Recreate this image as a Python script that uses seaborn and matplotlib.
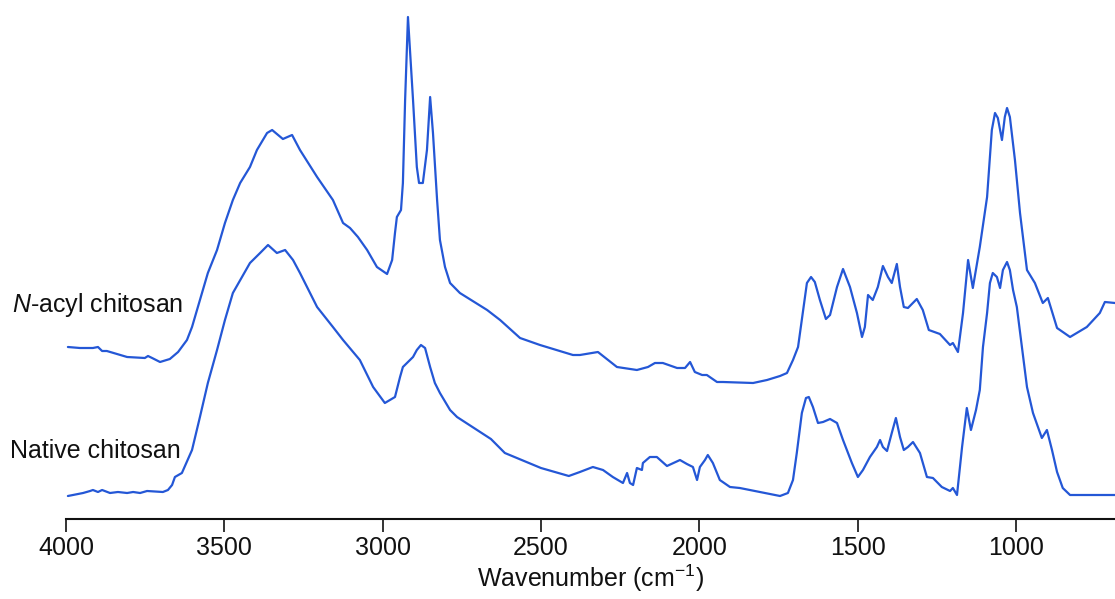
import pandas as pd
import matplotlib
matplotlib.use("Agg")
import matplotlib.pyplot as plt
import seaborn as sns

# FTIR spectra, absorbance in arbitrary units (offset traces)
acyl_wn = [3994, 3956, 3915, 3899, 3886, 3871, 3807, 3751, 3741, 3728, 3703, 3672, 3646, 3618,
           3602, 3577, 3552, 3523, 3498, 3473, 3450, 3419, 3397, 3365, 3349, 3315, 3286, 3261,
           3207, 3157, 3125, 3103, 3078, 3049, 3018, 2986, 2970, 2961, 2955, 2942, 2936, 2929,
           2920, 2904, 2892, 2885, 2873, 2860, 2850, 2841, 2828, 2819, 2803, 2787, 2756, 2670,
           2629, 2566, 2503, 2399, 2377, 2320, 2260, 2197, 2162, 2140, 2115, 2070, 2045, 2029,
           2014, 1991, 1976, 1944, 1925, 1830, 1786, 1745, 1723, 1704, 1688, 1673, 1660, 1647,
           1635, 1619, 1600, 1587, 1565, 1546, 1524, 1502, 1486, 1477, 1467, 1452, 1436, 1420,
           1404, 1392, 1376, 1366, 1354, 1341, 1313, 1294, 1275, 1240, 1208, 1199, 1183, 1167,
           1151, 1136, 1114, 1091, 1076, 1066, 1057, 1044, 1035, 1028, 1019, 1003, 987, 965,
           940, 915, 899, 870, 829, 776, 735, 719, 687]
acyl_abs = [1.72, 1.71, 1.71, 1.72, 1.68, 1.68, 1.62, 1.61, 1.63, 1.61, 1.57, 1.60, 1.67, 1.79,
            1.92, 2.19, 2.46, 2.69, 2.96, 3.19, 3.36, 3.52, 3.69, 3.86, 3.89, 3.80, 3.84, 3.69,
            3.42, 3.19, 2.96, 2.91, 2.82, 2.69, 2.52, 2.45, 2.59, 2.86, 3.02, 3.09, 3.36, 4.19,
            5.02, 4.19, 3.52, 3.36, 3.36, 3.69, 4.22, 3.86, 3.19, 2.79, 2.52, 2.36, 2.26, 2.09,
            1.99, 1.81, 1.74, 1.64, 1.64, 1.67, 1.52, 1.49, 1.52, 1.56, 1.56, 1.51, 1.51, 1.57,
            1.47, 1.44, 1.44, 1.37, 1.37, 1.36, 1.39, 1.43, 1.46, 1.59, 1.72, 2.06, 2.36, 2.42,
            2.37, 2.19, 2.00, 2.04, 2.32, 2.50, 2.32, 2.06, 1.82, 1.92, 2.24, 2.19, 2.32, 2.53,
            2.42, 2.36, 2.55, 2.32, 2.12, 2.11, 2.20, 2.09, 1.89, 1.85, 1.74, 1.76, 1.67, 2.06,
            2.59, 2.31, 2.72, 3.22, 3.89, 4.06, 4.01, 3.79, 4.02, 4.11, 4.02, 3.59, 3.06, 2.49,
            2.36, 2.16, 2.21, 1.91, 1.82, 1.92, 2.06, 2.17, 2.16]

native_wn = [3994, 3946, 3924, 3915, 3899, 3886, 3861, 3836, 3807, 3788, 3766, 3744, 3694, 3678,
             3665, 3656, 3634, 3602, 3577, 3552, 3523, 3498, 3473, 3444, 3419, 3387, 3362, 3334,
             3308, 3283, 3261, 3207, 3157, 3125, 3072, 3030, 2993, 2961, 2945, 2936, 2904, 2892,
             2879, 2866, 2850, 2835, 2819, 2787, 2765, 2658, 2614, 2500, 2412, 2377, 2336, 2304,
             2273, 2241, 2228, 2219, 2209, 2197, 2181, 2178, 2156, 2134, 2102, 2061, 2039, 2020,
             2007, 1998, 1982, 1973, 1957, 1935, 1903, 1872, 1808, 1745, 1720, 1704, 1692, 1676,
             1663, 1654, 1641, 1625, 1609, 1587, 1565, 1546, 1518, 1499, 1483, 1461, 1439, 1429,
             1420, 1407, 1392, 1379, 1366, 1354, 1341, 1325, 1303, 1281, 1262, 1234, 1208, 1199,
             1186, 1170, 1155, 1142, 1126, 1114, 1104, 1091, 1082, 1073, 1060, 1050, 1041, 1028,
             1019, 1009, 997, 981, 965, 946, 918, 902, 886, 870, 852, 829, 687]
native_abs = [0.23, 0.26, 0.28, 0.29, 0.27, 0.29, 0.26, 0.27, 0.26, 0.27, 0.26, 0.28, 0.27, 0.29,
              0.34, 0.42, 0.46, 0.69, 1.02, 1.36, 1.69, 1.99, 2.26, 2.42, 2.56, 2.66, 2.74, 2.66,
              2.69, 2.59, 2.46, 2.12, 1.92, 1.79, 1.59, 1.32, 1.16, 1.22, 1.42, 1.52, 1.62, 1.69,
              1.74, 1.71, 1.52, 1.36, 1.26, 1.09, 1.02, 0.80, 0.66, 0.51, 0.43, 0.47, 0.52, 0.49,
              0.42, 0.36, 0.46, 0.36, 0.34, 0.51, 0.49, 0.56, 0.62, 0.62, 0.53, 0.59, 0.55, 0.52,
              0.39, 0.52, 0.59, 0.64, 0.56, 0.39, 0.32, 0.31, 0.27, 0.23, 0.26, 0.39, 0.66, 1.06,
              1.21, 1.22, 1.12, 0.96, 0.97, 1.00, 0.96, 0.79, 0.56, 0.42, 0.49, 0.62, 0.72, 0.79,
              0.72, 0.68, 0.86, 1.01, 0.82, 0.69, 0.72, 0.77, 0.66, 0.42, 0.41, 0.32, 0.28, 0.31,
              0.24, 0.72, 1.11, 0.89, 1.09, 1.29, 1.72, 2.06, 2.36, 2.46, 2.42, 2.31, 2.49, 2.57,
              2.49, 2.29, 2.12, 1.72, 1.32, 1.06, 0.81, 0.89, 0.69, 0.47, 0.31, 0.24, 0.24]

labels = ["$\\it{N}$-acyl chitosan", "Native chitosan"]
ticks = [4000, 3500, 3000, 2500, 2000, 1500, 1000]
LINE_COLOR = "#2457d6"
INK = "#111111"

sns.set_theme(style="white")
plt.rcParams["font.family"] = ["Liberation Sans", "DejaVu Sans"]
plt.rcParams["mathtext.fontset"] = "custom"
plt.rcParams["mathtext.rm"] = "Liberation Sans"
plt.rcParams["mathtext.it"] = "Liberation Sans:italic"
plt.rcParams["text.color"] = INK
plt.rcParams["axes.labelcolor"] = INK
plt.rcParams["xtick.color"] = INK

df_acyl = pd.DataFrame({"wn": acyl_wn, "a": acyl_abs})
df_native = pd.DataFrame({"wn": native_wn, "a": native_abs})

fig = plt.figure(figsize=(11.15, 5.99), dpi=100)
ax = fig.add_axes([66 / 1115, 80 / 599, 1 - 66 / 1115, 519 / 599])

sns.lineplot(data=df_acyl, x="wn", y="a", ax=ax, color=LINE_COLOR, lw=1.6, sort=False)
sns.lineplot(data=df_native, x="wn", y="a", ax=ax, color=LINE_COLOR, lw=1.6, sort=False)

ax.set_xlim(4000, 687)
ax.set_ylim(0, 5.19)
ax.set_xticks(ticks)
ax.set_yticks([])
ax.set_ylabel("")
ax.set_xlabel("Wavenumber (cm$^{-1}$)", fontsize=18, labelpad=2)
ax.tick_params(axis="x", direction="out", length=9, width=1.2, color=INK,
               labelsize=18, pad=3, bottom=True)
for side in ["top", "left", "right"]:
    ax.spines[side].set_visible(False)
ax.spines["bottom"].set_color(INK)
ax.spines["bottom"].set_linewidth(1.5)

fig.text(12 / 1115, 1 - 312 / 599, labels[0], fontsize=18, va="baseline", ha="left")
fig.text(10 / 1115, 1 - 458 / 599, labels[1], fontsize=18, va="baseline", ha="left")

fig.savefig("out.png", dpi=100)
